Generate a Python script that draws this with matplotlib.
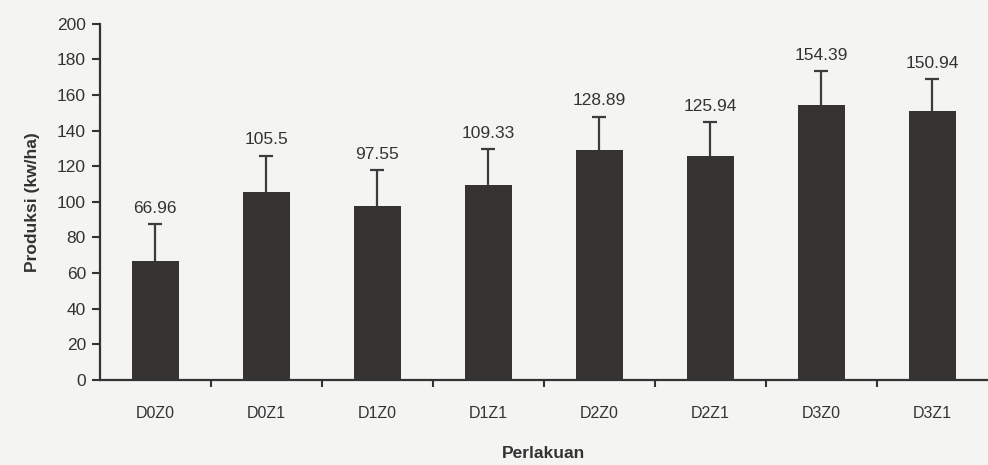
import numpy as np
import matplotlib.pyplot as plt

plt.rcParams['font.family'] = ['Liberation Sans', 'DejaVu Sans']

perlakuan = ['D0Z0', 'D0Z1', 'D1Z0', 'D1Z1', 'D2Z0', 'D2Z1', 'D3Z0', 'D3Z1']
produksi = [66.96, 105.5, 97.55, 109.33, 128.89, 125.94, 154.39, 150.94]
galat = [20.5, 20.4, 20.1, 20.3, 18.9, 18.7, 19.0, 18.0]
label_nilai = ['66.96', '105.5', '97.55', '109.33', '128.89', '125.94', '154.39', '150.94']

BG = '#f4f5f2'
BAR = '#363333'

fig = plt.figure(figsize=(9.88, 4.65), dpi=100, facecolor=BG)
ax = fig.add_axes([0.101, 0.183, 0.899, 0.766], facecolor=BG)

x = np.arange(len(perlakuan))
ax.bar(x, produksi, width=0.42, color=BAR, zorder=2)
eb = ax.errorbar(x, produksi, yerr=[np.zeros(len(galat)), galat], fmt='none',
                 ecolor='#3c3c3c', elinewidth=1.6, capsize=5, capthick=1.6, zorder=3)
# only the upper cap is drawn in the original
eb[1][0].set_visible(False)

for xi, v, e, t in zip(x, produksi, galat, label_nilai):
    ax.annotate(t, (xi, v + e), xytext=(0, 6), textcoords='offset points',
                ha='center', va='bottom', fontsize=12.5, color='#333333')

ax.set_xlim(-0.5, 7.5)
ax.set_ylim(0, 200)
ax.set_yticks(np.arange(0, 201, 20))
ax.set_xticks(x)
ax.set_xticklabels(perlakuan)
ax.set_xticks(np.arange(0.5, 7.5, 1), minor=True)
ax.tick_params(axis='x', which='major', length=0, pad=19, labelsize=11.5, colors='#333333')
ax.tick_params(axis='x', which='minor', length=5, width=1.5, color='#333333')
ax.tick_params(axis='y', length=6, width=1.5, pad=4, labelsize=12.5, colors='#333333')

for s in ['top', 'right']:
    ax.spines[s].set_visible(False)
for s in ['left', 'bottom']:
    ax.spines[s].set_linewidth(1.6)
    ax.spines[s].set_color('#333333')

ax.set_ylabel('Produksi (kw/ha)', fontsize=12.5, fontweight='bold', color='#333333', labelpad=12)
ax.set_xlabel('Perlakuan', fontsize=12.5, fontweight='bold', color='#333333', labelpad=18)

fig.savefig('out.png', dpi=100, facecolor=BG)
